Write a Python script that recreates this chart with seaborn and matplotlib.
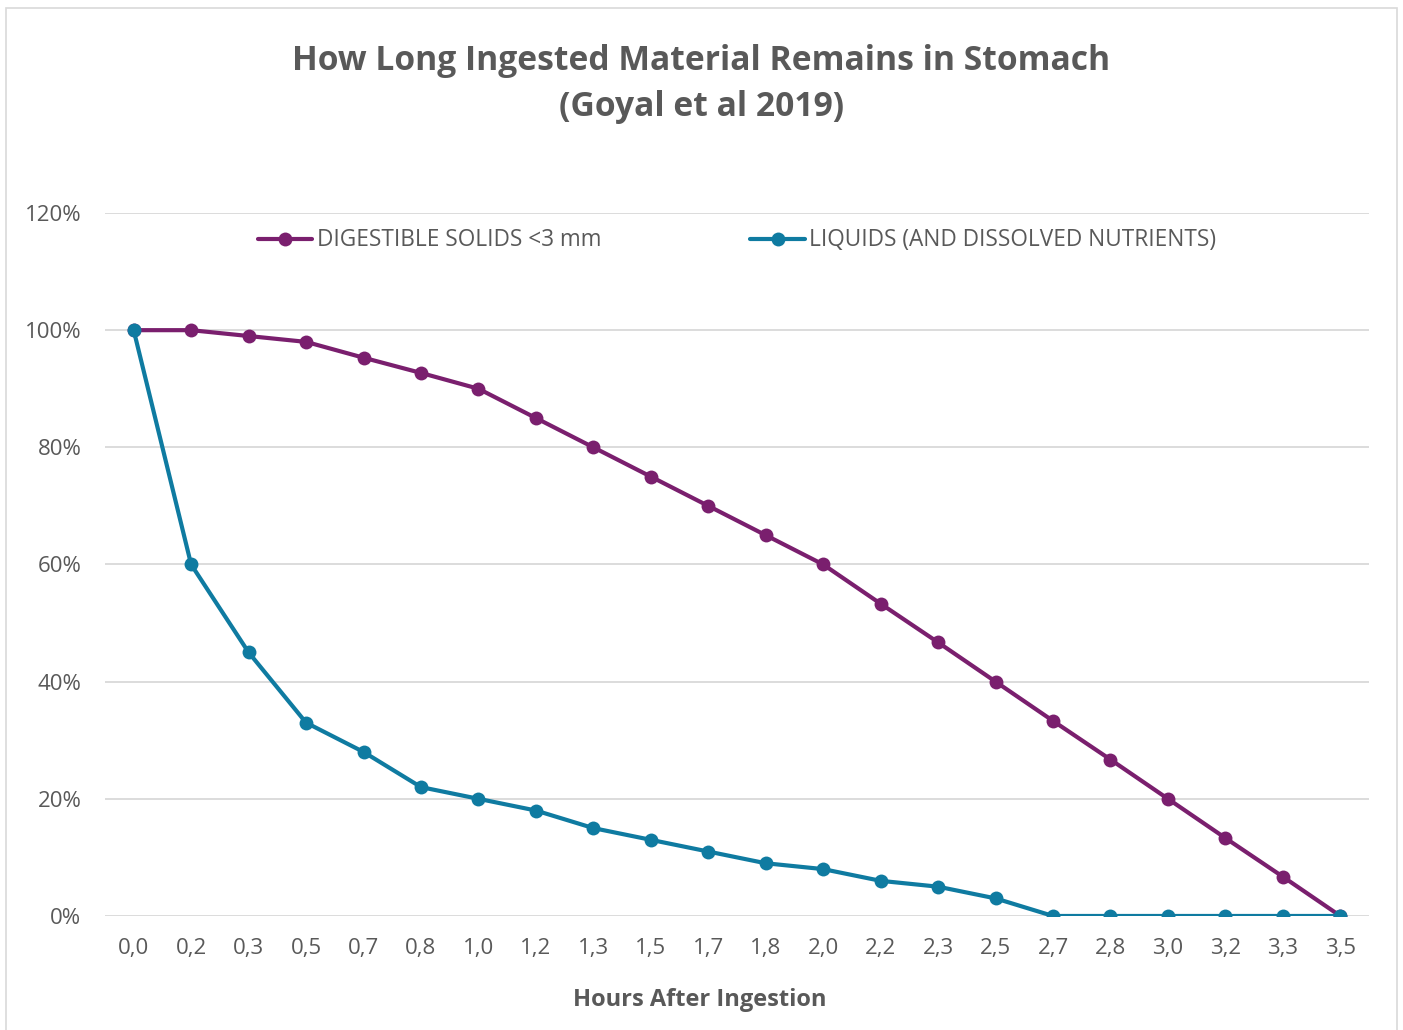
import matplotlib
matplotlib.use("Agg")
import matplotlib.pyplot as plt
import seaborn as sns
import pandas as pd
from matplotlib.patches import Rectangle
from matplotlib.ticker import FuncFormatter

hours = ["0,0", "0,2", "0,3", "0,5", "0,7", "0,8", "1,0", "1,2", "1,3", "1,5", "1,7",
         "1,8", "2,0", "2,2", "2,3", "2,5", "2,7", "2,8", "3,0", "3,2", "3,3", "3,5"]
solids = [1.00, 1.00, 0.99, 0.98, 0.953, 0.927, 0.90, 0.85, 0.80, 0.75, 0.70,
          0.65, 0.60, 0.533, 0.467, 0.40, 0.333, 0.267, 0.20, 0.133, 0.067, 0.0]
liquids = [1.00, 0.60, 0.45, 0.33, 0.28, 0.22, 0.20, 0.18, 0.15, 0.13, 0.11,
           0.09, 0.08, 0.06, 0.05, 0.03, 0.0, 0.0, 0.0, 0.0, 0.0, 0.0]
series_names = ["DIGESTIBLE SOLIDS <3 mm", "LIQUIDS (AND DISSOLVED NUTRIENTS)"]
colors = ["#7A1F6E", "#0F7BA1"]

df = pd.DataFrame({
    "Hours": hours * 2,
    "Value": solids + liquids,
    "Series": [series_names[0]] * len(hours) + [series_names[1]] * len(hours),
})

sns.set_style("white")
plt.rcParams["font.family"] = ["Open Sans", "DejaVu Sans"]
text_color = "#595959"

fig = plt.figure(figsize=(14.03, 10.30), dpi=100)
ax = fig.add_axes([0.0748, 0.1107, 0.901, 0.6825])

sns.lineplot(data=df, x="Hours", y="Value", hue="Series", hue_order=series_names,
             palette=colors, marker="o", markersize=10, markeredgewidth=0,
             linewidth=3, sort=False, ax=ax, legend=True)

ax.set_ylim(0, 1.2)
ax.set_xlim(-0.5, len(hours) - 0.5)
ax.set_yticks([0, 0.2, 0.4, 0.6, 0.8, 1.0, 1.2])
ax.yaxis.set_major_formatter(FuncFormatter(lambda v, p: f"{v*100:.0f}%"))
ax.grid(axis="y", color="#D9D9D9", linewidth=1.3)
ax.set_axisbelow(True)
for s in ax.spines.values():
    s.set_visible(False)
ax.tick_params(axis="both", length=0, labelsize=16, colors=text_color)
ax.tick_params(axis="y", pad=17)
ax.tick_params(axis="x", pad=16)
ax.set_ylabel("")
ax.set_xlabel("Hours After Ingestion", fontsize=17, fontweight="bold",
              color=text_color)
ax.xaxis.set_label_coords(0.4707, -0.103)

handles, labels = ax.get_legend_handles_labels()
leg = ax.legend(handles, labels, loc="upper center", bbox_to_anchor=(0.5, 1.007),
                ncol=2, frameon=False, fontsize=16.3, handlelength=2.4,
                handletextpad=0.2, columnspacing=6.6)
for t in leg.get_texts():
    t.set_color(text_color)

fig.text(0.5, 0.957, "How Long Ingested Material Remains in Stomach\n(Goyal et al 2019)",
         ha="center", va="top", fontsize=24.2, fontweight="bold", color=text_color,
         linespacing=1.45)

fig.patches.append(Rectangle((0.004, -0.01), 0.992, 1.002, transform=fig.transFigure,
                             fill=False, edgecolor="#D9D9D9", linewidth=1.2))

fig.savefig("out.png", dpi=100)
